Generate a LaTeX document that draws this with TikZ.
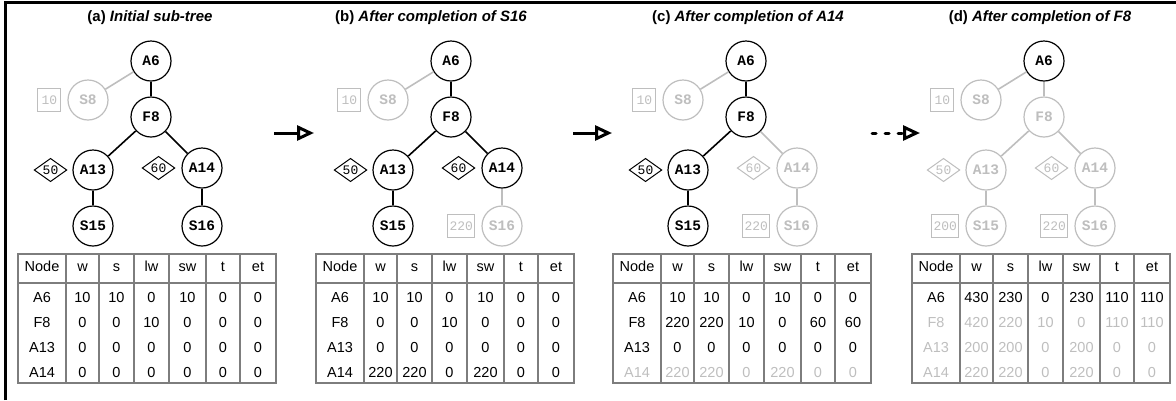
\documentclass[tikz,border=0pt]{standalone}
\usepackage{fontspec}
\setmainfont{Liberation Sans}
\newfontfamily\treefont{Liberation Mono}
\usetikzlibrary{arrows.meta, positioning, shapes.geometric}
\definecolor{mygray}{RGB}{190,190,190}
\definecolor{tabgray}{RGB}{125,125,125}
\tikzset{
   tnode/.style   = {circle, draw, line width=1.2pt, minimum size=40pt, inner sep=0pt,
                     fill=white, font=\treefont\bfseries\fontsize{14.5}{14.5}\selectfont},
   link/.style    = {line width=1.6pt},
   valbox/.style  = {draw=mygray, text=mygray, line width=1pt, minimum width=23pt,
                     minimum height=23pt, inner sep=2pt,
                     font=\treefont\fontsize{13}{13}\selectfont},
   weight/.style  = {diamond, draw, aspect=1.4, line width=1pt, minimum width=32pt,
                     minimum height=23pt, inner sep=1pt,
                     font=\treefont\fontsize{13}{13}\selectfont},
   title/.style   = {font=\bfseries\fontsize{15}{18}\selectfont},
   cell/.style    = {inner sep=0pt, text height=10.5pt, text depth=3pt,
                     font=\fontsize{14.5}{17}\selectfont},
   tabline/.style = {draw=tabgray, line width=1.2pt},
   nextarrow/.style = {line width=3pt, -{Triangle[open, length=17pt, width=15pt]}}
}
\newcommand{\subtree}[5]{%
   % x offset, name prefix, colour of S16, colour of A14 and 60,
   % colour of the F8 branch
   \begin{scope}[xshift=#1pt]
      \node[tnode] (#2A6) at (151,61) {A6};
      \node[tnode, draw=mygray, text=mygray] (#2S8) at (88,100) {S8};
      \node[tnode, draw=#5, text=#5] (#2F8) at (151,117) {F8};
      \node[tnode, draw=#5, text=#5] (#2A13) at (93,170) {A13};
      \node[tnode, draw=#4, text=#4] (#2A14) at (202,168) {A14};
      \node[tnode, draw=#5, text=#5] (#2S15) at (93,226) {S15};
      \node[tnode, draw=#3, text=#3] (#2S16) at (202,226) {S16};
      \node[valbox, left=6pt of #2S8] (#2v8) {10};
      \node[weight, draw=#5, text=#5, left=5pt of #2A13] (#2w13) {50};
      \node[weight, draw=#4, text=#4, left=6pt of #2A14] (#2w14) {60};
      \draw[link, mygray] (#2A6) -- (#2S8);
      \draw[link, #5] (#2A6) -- (#2F8);
      \draw[link, #5] (#2F8) -- (#2A13);
      \draw[link, #4] (#2F8) -- (#2A14);
      \draw[link, #5] (#2A13) -- (#2S15);
      \draw[link, #3] (#2A14) -- (#2S16);
   \end{scope}
}
\newcommand{\valtable}[3]{%
   % x offset, name prefix, rows as colour/node/w/s/lw/sw/t/et
   \begin{scope}[xshift=#1pt]
      \draw[tabline] (18,254) rectangle (276,383) (18,283) -- (276,283);
      \foreach \x in {66,99,134,169,206,240}
         \draw[tabline] (\x,254) -- (\x,383);
      \foreach \hd/\x [count=\c] in {Node/42,w/82.5,s/116.5,lw/151.5,sw/187.5,t/223,et/258}
         \node[cell] (#2h\c) at (\x,268) {\hd};
      \foreach \col/\nm/\va/\vb/\vc/\vd/\ve/\vf [count=\r] in {#3}
         \foreach \val/\x [count=\c] in {\nm/42,\va/82.5,\vb/116.5,\vc/151.5,\vd/187.5,\ve/223,\vf/258}
            \node[cell, text=\col] (#2r\r-\c) at (\x,274+25*\r) {\val};
   \end{scope}
}
\begin{document}
\begin{tikzpicture}[x=1pt, y=-1pt]
   \useasboundingbox (0,0) rectangle (1176,400);
   \draw[line width=3pt] (5.5,400) -- (5.5,2.5) -- (1176,2.5);

   % (a)
   \node[title] (titlea) at (150,18) {(a) \textit{Initial sub-tree}};
   \subtree{0}{a}{black}{black}{black}
   \valtable{0}{ta}{black/A6/10/10/0/10/0/0, black/F8/0/0/10/0/0/0,
      black/A13/0/0/0/0/0/0, black/A14/0/0/0/0/0/0}

   % (b)
   \node[title] (titleb) at (431,18) {(b) \textit{After completion of S16}};
   \subtree{300}{b}{mygray}{black}{black}
   \node[valbox, left=6pt of bS16] (bv16) {220};
   \valtable{298}{tb}{black/A6/10/10/0/10/0/0, black/F8/0/0/10/0/0/0,
      black/A13/0/0/0/0/0/0, black/A14/220/220/0/220/0/0}

   % (c)
   \node[title] (titlec) at (748,18) {(c) \textit{After completion of A14}};
   \subtree{595}{c}{mygray}{mygray}{black}
   \node[valbox, left=6pt of cS16] (cv16) {220};
   \valtable{595}{tc}{black/A6/10/10/0/10/0/0, black/F8/220/220/10/0/60/60,
      black/A13/0/0/0/0/0/0, mygray/A14/220/220/0/220/0/0}

   % (d)
   \node[title] (titled) at (1040,18) {(d) \textit{After completion of F8}};
   \subtree{893}{d}{mygray}{mygray}{mygray}
   \node[valbox, left=6pt of dS15] (dv15) {200};
   \node[valbox, left=6pt of dS16] (dv16) {220};
   \valtable{894}{td}{black/A6/430/230/0/230/110/110, mygray/F8/420/220/10/0/110/110,
      mygray/A13/200/200/0/200/0/0, mygray/A14/220/220/0/220/0/0}

   % steps
   \coordinate (s1a) at (274,133);
   \coordinate (s1b) at (314,133);
   \coordinate (s2a) at (573,133);
   \coordinate (s2b) at (612,133);
   \coordinate (s3a) at (872,133);
   \coordinate (s3b) at (920,133);
   \draw[nextarrow] (s1a) -- (s1b);
   \draw[nextarrow] (s2a) -- (s2b);
   \draw[nextarrow, line cap=round, dash pattern=on 4pt off 9pt] (s3a) -- (s3b);
\end{tikzpicture}
\end{document}
